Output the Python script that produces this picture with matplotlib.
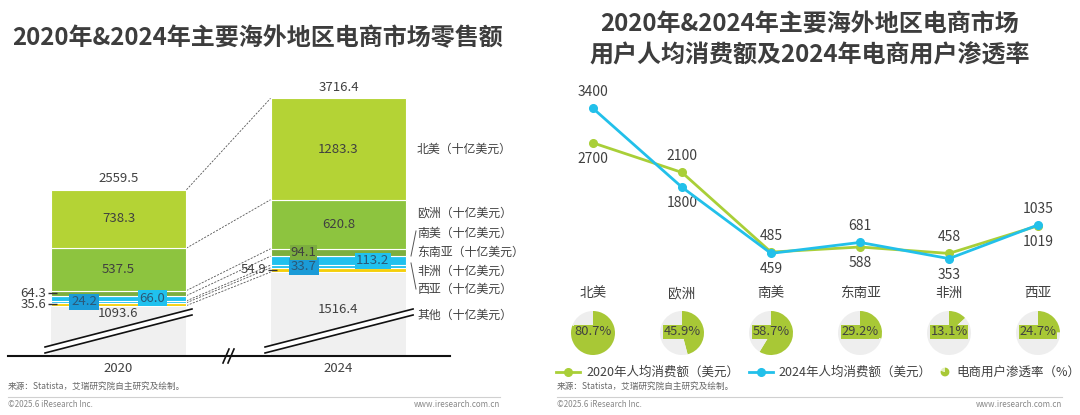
import matplotlib
matplotlib.use('Agg')
import matplotlib.pyplot as plt
from matplotlib.lines import Line2D
from matplotlib.patches import Polygon

plt.rcParams['font.family'] = ['Noto Sans CJK SC', 'DejaVu Sans']

# ---------------- data ----------------
years = ['2020', '2024']
regions = ['北美', '欧洲', '南美', '东南亚', '非洲', '西亚', '其他']
sales_2020 = [738.3, 537.5, 64.3, 66.0, 24.2, 35.6, 1093.6]
sales_2024 = [1283.3, 620.8, 94.1, 113.2, 33.7, 54.9, 1516.4]
totals = [2559.5, 3716.4]
unit = '（十亿美元）'

line_cats = ['北美', '欧洲', '南美', '东南亚', '非洲', '西亚']
spend_2020 = [2700, 2100, 485, 588, 458, 1019]
spend_2024 = [3400, 1800, 459, 681, 353, 1035]
penetration = [80.7, 45.9, 58.7, 29.2, 13.1, 24.7]

title_left = '2020年&2024年主要海外地区电商市场零售额'
title_right = ['2020年&2024年主要海外地区电商市场', '用户人均消费额及2024年电商用户渗透率']
legend_labels = ['2020年人均消费额（美元）', '2024年人均消费额（美元）', '电商用户渗透率（%）']
source_text = '来源：Statista，艾瑞研究院自主研究及绘制。'
copyright_text = '©2025.6 iResearch Inc.'
site_text = 'www.iresearch.com.cn'

# ---------------- style ----------------
W, H = 1080, 415
TXT = '#404040'
seg_colors = {'北美': '#b4d335', '欧洲': '#8dc43f', '南美': '#7cae3e',
              '东南亚': '#20c1ee', '非洲': '#20c1ee', '西亚': '#f5cf0a',
              '其他': '#f0f0f0'}
BLUE_BOX = '#1b9bd7'
GREEN_L = '#a9cf38'
BLUE_L = '#22c0ea'
PIE_G = '#a8c836'
PIE_BG = '#eeeeee'


def fx(x):
    return x / W


def fy(y):
    return 1 - y / H


fig = plt.figure(figsize=(W / 100, H / 100), dpi=100)

# ---------------- left: stacked bars with broken axis ----------------
CUT = 455.0          # amount removed from the "其他" segment by the axis break
SC = 0.079           # px per unit
BAR_W = 0.618
ax1 = fig.add_axes([0, fy(356), 0.5, 276 / H])
ax1.set_xlim(-118.5 / 220, 421.5 / 220)
ax1.set_ylim(0, 276 / SC)
ax1.axis('off')

order = list(reversed(regions))  # bottom-up
bounds = []
mids = []
for i, vals in enumerate([sales_2020, sales_2024]):
    vmap = dict(zip(regions, vals))
    bottom = 0.0
    b = {}
    m = {}
    for r in order:
        h = vmap[r] - CUT if r == '其他' else vmap[r]
        ax1.bar(i, h, bottom=bottom, width=BAR_W, color=seg_colors[r],
                edgecolor='white', linewidth=0.8 if r != '其他' else 0, zorder=2)
        b[r] = (bottom, bottom + h)
        m[r] = bottom + h / 2
        bottom += h
    bounds.append(b)
    mids.append(m)

# dashed connectors between corresponding boundaries
conn_levels = []
for i in range(2):
    b = bounds[i]
    lv = [b['北美'][1]] + [b[r][0] for r in regions[:-1]]
    conn_levels.append(lv)
for k in range(len(conn_levels[0])):
    ax1.plot([BAR_W / 2, 1 - BAR_W / 2], [conn_levels[0][k], conn_levels[1][k]],
             ls=(0, (2.5, 1.6)), color='#555555', lw=0.6, zorder=1)

# labels
for i in range(2):
    vals = dict(zip(regions, [sales_2020, sales_2024][i]))
    b = bounds[i]
    m = mids[i]
    ax1.annotate(f'{totals[i]:.1f}', (i, b['北美'][1]), xytext=(0, 11),
                 textcoords='offset pixels', ha='center', va='center',
                 fontsize=9.5, color=TXT)
    for r in ['北美', '欧洲']:
        ax1.text(i, m[r], f'{vals[r]:.1f}', ha='center', va='center',
                 fontsize=9.5, color=TXT, zorder=5)
    drop = [8, 37][i]
    ax1.annotate(f'{vals["其他"]:.1f}', (i, b['其他'][1]), xytext=(0, -drop),
                 textcoords='offset pixels', ha='center', va='center',
                 fontsize=9.5, color=TXT, zorder=5)
    # boxed inner labels
    ax1.text(i - 0.157, m['非洲'], f'{vals["非洲"]:.1f}', ha='center', va='center',
             fontsize=9.5, color='#2b5877', zorder=6,
             bbox=dict(facecolor=BLUE_BOX, edgecolor='none', pad=1.2))
    ax1.text(i + 0.155, m['东南亚'], f'{vals["东南亚"]:.1f}', ha='center', va='center',
             fontsize=9.5, color='#2b5877', zorder=6,
             bbox=dict(facecolor=seg_colors['东南亚'], edgecolor='none', pad=1.0))
    outside = ['南美', '西亚'] if i == 0 else ['西亚']
    for r in outside:
        ax1.plot([i - BAR_W / 2 - 0.012, i - BAR_W / 2 + 0.03], [m[r], m[r]],
                 color='#333333', lw=1.0, zorder=7, solid_capstyle='butt')
        ax1.text(i - BAR_W / 2 - 0.02, m[r], f'{vals[r]:.1f}', ha='right',
                 va='center', fontsize=9.5, color=TXT)
    if i == 1:
        ax1.text(i - 0.16, m['南美'], f'{vals["南美"]:.1f}', ha='center', va='center',
                 fontsize=9.5, color=TXT, zorder=6,
                 bbox=dict(facecolor=seg_colors['南美'], edgecolor='none', pad=0.6))
    # year label
    ax1.annotate(years[i], (i, 0), xytext=(0, -12), textcoords='offset pixels',
                 ha='center', va='center', fontsize=9.5, color=TXT)
    # break marks
    xl = i - BAR_W / 2 - 0.025
    xr = i + BAR_W / 2 + (0.025 if i == 0 else 0.03)
    ya, yb = 114, 595
    off = 6 / SC
    ax1.add_patch(Polygon([[xl, ya], [xr, yb], [xr, yb - off], [xl, ya - off]],
                          closed=True, facecolor='white', edgecolor='none', zorder=8))
    ax1.plot([xl, xr], [ya, yb], color='#111111', lw=1.2, zorder=9)
    ax1.plot([xl, xr], [ya - off, yb - off], color='#111111', lw=1.2, zorder=9)

# axis line and "//"
fig.add_artist(Line2D([fx(8), fx(450)], [fy(356), fy(356)], color='#111111', lw=1.5))
for dx in (0, 5):
    fig.add_artist(Line2D([fx(223 + dx), fx(229 + dx)], [fy(363), fy(349)],
                          color='#111111', lw=1.2))

# right-side category labels
lab_y = [149, 213, 233, 252, 271, 289, 315]
for r, yy in zip(regions, lab_y):
    fig.text(fx(417), fy(yy), r + unit, ha='left', va='center', fontsize=8.6, color=TXT)
fig.add_artist(Line2D([fx(416), fx(411)], [fy(231), fy(256)], color='#555555', lw=0.7))
fig.add_artist(Line2D([fx(411), fx(416)], [fy(263), fy(289)], color='#555555', lw=0.7))

# ---------------- right: lines ----------------
SC2 = 0.0493
ax2 = fig.add_axes([0.5, fy(276), 0.5, 196 / H])
ax2.set_xlim((540 - 593) / 89, (1080 - 593) / 89)
ax2.set_ylim(0, 196 / SC2)
ax2.axis('off')
xs = list(range(len(line_cats)))
ax2.plot(xs, spend_2020, color=GREEN_L, lw=2.0, marker='o', ms=5.5, zorder=3)
ax2.plot(xs, spend_2024, color=BLUE_L, lw=2.0, marker='o', ms=5.5, zorder=4)
for i in xs:
    a, c = spend_2020[i], spend_2024[i]
    hi, lo = (a, c) if a >= c else (c, a)
    ax2.annotate(f'{hi}', (i, hi), xytext=(0, 16), textcoords='offset pixels',
                 ha='center', va='center', fontsize=10, color=TXT)
    ax2.annotate(f'{lo}', (i, lo), xytext=(0, -16), textcoords='offset pixels',
                 ha='center', va='center', fontsize=10, color=TXT)
    ax2.annotate(line_cats[i], (i, 0), xytext=(0, -17), textcoords='offset pixels',
                 ha='center', va='center', fontsize=9.8, color=TXT)

# pies
R = 22
for i, p in enumerate(penetration):
    dx = ax2.transData.transform((i, 0))[0]
    axp = fig.add_axes([(dx - R) / W, (H - 333 - R) / H, 2 * R / W, 2 * R / H])
    axp.pie([p, 100 - p], colors=[PIE_G, PIE_BG], startangle=90, counterclock=False,
            radius=1.0, wedgeprops=dict(linewidth=0))
    axp.set_xlim(-1, 1)
    axp.set_ylim(-1, 1)
    axp.text(0.0, 0.05, f'{p}%', ha='center', va='center', fontsize=9.3, color=TXT,
             bbox=dict(facecolor=PIE_G, edgecolor='none', pad=0.5))

# legend (manual)
ly = 372
fig.add_artist(Line2D([fx(556), fx(580)], [fy(ly), fy(ly)], color=GREEN_L, lw=2.0))
fig.add_artist(Line2D([fx(568)], [fy(ly)], color=GREEN_L, marker='o', ms=5.5, lw=0))
fig.text(fx(586), fy(ly), legend_labels[0], ha='left', va='center', fontsize=9, color=TXT)
fig.add_artist(Line2D([fx(749), fx(773)], [fy(ly), fy(ly)], color=BLUE_L, lw=2.0))
fig.add_artist(Line2D([fx(761)], [fy(ly)], color=BLUE_L, marker='o', ms=5.5, lw=0))
fig.text(fx(778), fy(ly), legend_labels[1], ha='left', va='center', fontsize=9, color=TXT)
axl = fig.add_axes([(945 - 5.5) / W, (H - ly - 5.5) / H, 11 / W, 11 / H])
axl.pie([80, 20], colors=[PIE_G, '#e4eec0'], startangle=90, counterclock=False,
        wedgeprops=dict(linewidth=0))
fig.text(fx(956), fy(ly), legend_labels[2], ha='left', va='center', fontsize=9, color=TXT)

# ---------------- titles ----------------
fig.text(fx(258), fy(38), title_left, ha='center', va='center', fontsize=17.3,
         fontweight='bold', color='#3d3d3d')
fig.text(fx(810), fy(24), title_right[0], ha='center', va='center', fontsize=17.3,
         fontweight='bold', color='#3d3d3d')
fig.text(fx(810), fy(55), title_right[1], ha='center', va='center', fontsize=17.3,
         fontweight='bold', color='#3d3d3d')

# ---------------- footers ----------------
for x0, x1 in [(8, 500), (557, 1062)]:
    fig.text(fx(x0), fy(386), source_text, ha='left', va='center', fontsize=6.2, color='#666666')
    fig.add_artist(Line2D([fx(x0), fx(x1)], [fy(397), fy(397)], color='#d0d0d0', lw=0.8))
    fig.text(fx(x0), fy(404), copyright_text, ha='left', va='center', fontsize=5.8, color='#888888')
    fig.text(fx(x1), fy(404), site_text, ha='right', va='center', fontsize=5.8, color='#888888')

fig.savefig('out.png', dpi=100)
